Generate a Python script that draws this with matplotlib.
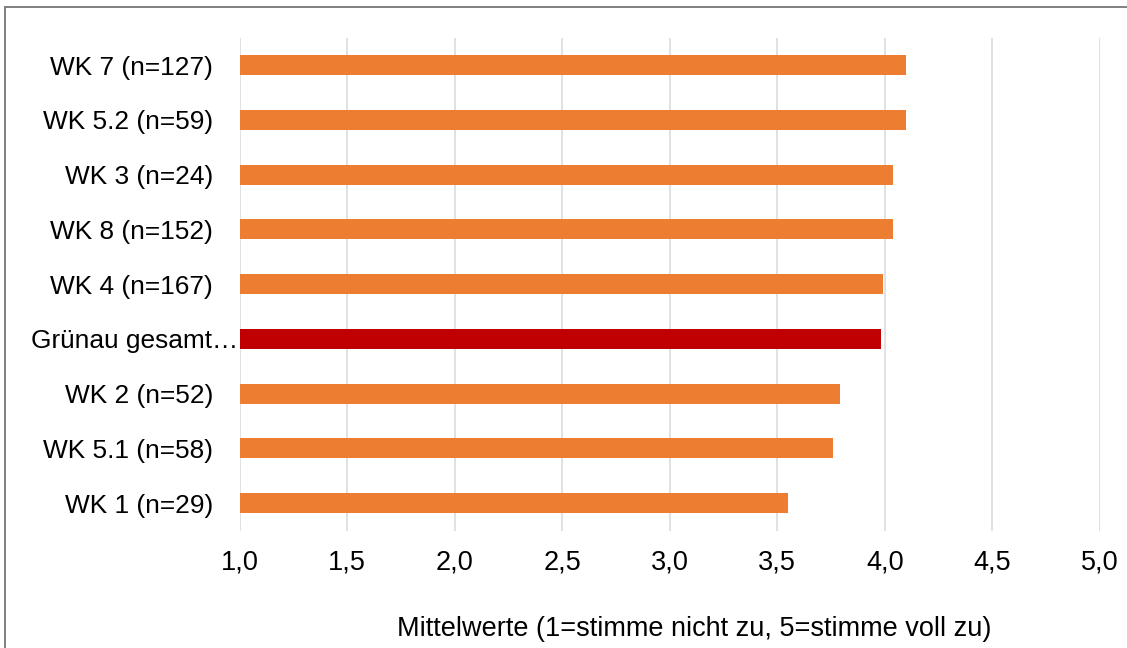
import matplotlib
matplotlib.use("Agg")
import matplotlib.pyplot as plt
from matplotlib.lines import Line2D
from matplotlib.transforms import ScaledTranslation

categories = ["WK 7 (n=127)", "WK 5.2 (n=59)", "WK 3 (n=24)", "WK 8 (n=152)",
              "WK 4 (n=167)", "Grünau gesamt…", "WK 2 (n=52)", "WK 5.1 (n=58)",
              "WK 1 (n=29)"]
values = [4.10, 4.10, 4.04, 4.04, 3.99, 3.98, 3.79, 3.76, 3.55]
highlight = "Grünau gesamt…"
xticks = [1.0, 1.5, 2.0, 2.5, 3.0, 3.5, 4.0, 4.5, 5.0]
xticklabels = ["1,0", "1,5", "2,0", "2,5", "3,0", "3,5", "4,0", "4,5", "5,0"]
xlabel = "Mittelwerte (1=stimme nicht zu, 5=stimme voll zu)"

plt.rcParams['font.family'] = ['Liberation Sans', 'DejaVu Sans']
FS = 19.5
FSY = 18.9

fig = plt.figure(figsize=(11.27, 6.48), dpi=100)
ax = fig.add_axes([239.5/1127, 1-530.5/648, (1100-239.5)/1127, (530.5-37.7)/648])

n = len(categories)
ypos = list(range(n - 1, -1, -1))
colors = ["#C00000" if c == highlight else "#ED7D31" for c in categories]
ax.barh(ypos, [v - 1.0 for v in values], left=1.0, height=0.366, color=colors, zorder=3)

ax.set_xlim(1.0, 5.0)
ax.set_ylim(-0.5, n - 0.5)
ax.set_xticks(xticks)
ax.set_xticklabels(xticklabels, fontsize=FS)
ax.set_yticks(ypos)
ax.set_yticklabels(categories, fontsize=FSY)
ax.tick_params(axis='both', length=0)
ax.tick_params(axis='y', pad=19)
ax.tick_params(axis='x', pad=14)
ax.grid(axis='x', color='#d9d9d9', linewidth=1.1, zorder=0)
for s in ax.spines.values():
    s.set_visible(False)

for lab in ax.get_yticklabels():
    if lab.get_text() == highlight:
        lab.set_transform(lab.get_transform() + ScaledTranslation(25/100, 0, fig.dpi_scale_trans))

ax.set_xlabel(xlabel, fontsize=FS)
ax.xaxis.set_label_coords((694-239.5)/860.5, (530.5-628.5)/492.8, transform=ax.transAxes)
ax.xaxis.label.set_va('center')

# outer frame (partial, as cropped)
fig.add_artist(Line2D([5/1127, 1.0], [1-6.5/648, 1-6.5/648], color='#808080', linewidth=1.4, transform=fig.transFigure))
fig.add_artist(Line2D([5/1127, 5/1127], [0, 1-6.5/648], color='#808080', linewidth=1.4, transform=fig.transFigure))

fig.savefig("out.png", dpi=100)
